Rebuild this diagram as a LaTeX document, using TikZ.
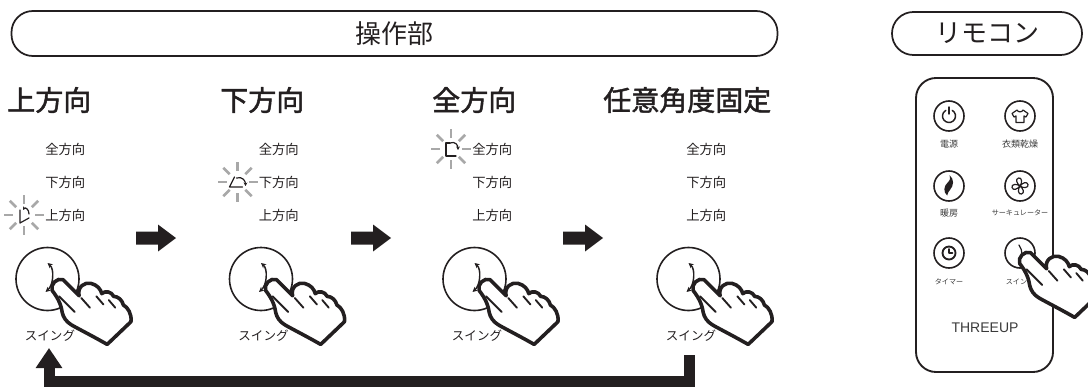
\documentclass[tikz,border=0pt]{standalone}
\usepackage{fontspec}
\setmainfont{Liberation Sans}
\newfontfamily\jp{Noto Sans CJK JP}
\newfontfamily\jpheavy[FakeBold=1.6]{Noto Sans CJK JP}
\usetikzlibrary{arrows.meta,calc}

\definecolor{ink}{HTML}{231F20}
\definecolor{raygray}{HTML}{A8A8A8}
\definecolor{labelgray}{HTML}{3A3A3A}

\tikzset{
  banner/.style={draw=ink, line width=1.3pt, rounded corners=16pt, inner sep=0pt,
    font=\jp\fontsize{19.5}{19.5}\selectfont, text=ink},
  title/.style={font=\jpheavy\fontsize{21}{21}\selectfont, text=ink, inner sep=0pt, anchor=west},
  lvl/.style={font=\jp\fontsize{10}{10}\selectfont, text=ink, inner sep=0pt, anchor=west},
  swbtn/.style={circle, draw=ink, line width=1.2pt, minimum size=47.25pt, inner sep=0pt},
  swlabel/.style={font=\jp\fontsize{9.4}{9.4}\selectfont, text=ink, inner sep=0pt},
  rbody/.style={draw=ink, line width=1.4pt, rounded corners=15pt, inner sep=0pt},
  rbtn/.style={circle, draw=ink, line width=1.2pt, minimum size=22.5pt, inner sep=0pt},
  rkanji/.style={font=\jp\fontsize{6.75}{6.75}\selectfont, text=labelgray, inner sep=0pt},
  rkana/.style={font=\jp\fontsize{5.3}{5.3}\selectfont, text=labelgray, inner sep=0pt},
  brand/.style={font=\fontsize{10.5}{10.5}\selectfont, text=labelgray, inner sep=0pt},
  glyphline/.style={draw=ink, line width=0.9pt, line cap=round, line join=round},
  tinytip/.style={-{Stealth[length=2.6pt,width=2.8pt]}},
  rayline/.style={draw=raygray, line width=2pt},
  handline/.style={draw=ink, fill=white, line width=2.7pt, line join=round, line cap=round},
  handcrease/.style={draw=ink, line width=1.4pt, line cap=round},
  returnline/.style={draw=ink, line width=8.25pt, -{Triangle[length=15pt,width=19pt]}},
  % pointing hand, fingertip at the origin
  pointhand/.pic={
    \begin{scope}[scale=1.08]
    \path[handline] (-5,5) .. controls (-7,-0.5) and (-0.5,-7) .. (5,-5)
      -- (20,10)
      .. controls (18,2) and (25,-3) .. (31,-1.5)
      .. controls (37,0) and (40,4) .. (41,8)
      .. controls (44,5) and (50,6) .. (52,10.5)
      .. controls (56,10.5) and (60,14) .. (61,18.5)
      .. controls (65,20.5) and (69,27) .. (68,34)
      -- (46,55)
      .. controls (32,47) and (20,41) .. (13,37)
      .. controls (8,34) and (5.5,30) .. (4.5,26)
      .. controls (3.5,20) and (2,14) .. cycle;
    \draw[handcrease] (1.5,10.5) -- (16,25);
    \draw[handcrease] (22,12) -- (30,21);
    \draw[handcrease] (36,10.5) -- (42.5,18);
    \draw[handcrease] (47.5,14) -- (53.5,21);
    \end{scope}
  },
  swingarc/.pic={
    \draw[glyphline, line width=1.1pt,
      {Stealth[length=3.8pt,width=3.8pt]}-{Stealth[length=3.8pt,width=3.8pt]}]
      (0,-16) .. controls (7,-10) and (6,6) .. (-2,13);
  },
  flowarrow/.pic={
    \fill[ink] (0,-6.5) -- (22,-6.5) -- (22,-13.5) -- (40,0) -- (22,13.5) -- (22,6.5) -- (0,6.5) -- cycle;
  },
  blinkrays/.pic={
    \foreach \a in {0,45,...,315} \draw[rayline] (\a:11) -- (\a:20);
  },
  upglyph/.pic={
    \draw[glyphline] (-4,-5) -- (-4,8) -- (5,3);
    \draw[glyphline,tinytip] (5,-1) .. controls (5,-6) and (1,-8) .. (-1,-5);
  },
  downglyph/.pic={
    \draw[glyphline] (-3,-5) -- (-8,5) -- (5,5);
    \draw[glyphline,tinytip] (-1,-4) .. controls (5,-6) and (8,-1) .. (8,4);
  },
  allglyph/.pic={
    \draw[glyphline] (-1,-6) -- (-5,-6) -- (-5,7) -- (5,7);
    \draw[glyphline,tinytip] (-1,-6) .. controls (4,-8) and (7,-4) .. (7,1);
  },
  powericon/.pic={
    \draw[glyphline, line width=1.1pt] (-60:6.5) arc[start angle=-60, end angle=240, radius=6.5];
    \draw[glyphline, line width=1.1pt] (0,-9) -- (0,-2);
  },
  shirticon/.pic={
    \draw[glyphline] (-3,-6) -- (-8,-2.5) -- (-6,1) -- (-4,0) -- (-4,6.5) -- (4,6.5)
      -- (4,0) -- (6,1) -- (8,-2.5) -- (3,-6) .. controls (2,-3.5) and (-2,-3.5) .. cycle;
  },
  flameicon/.pic={
    \begin{scope}[scale=1.2]
    \fill[ink] (-1.5,8) .. controls (-5,5) and (-4.5,0) .. (-1,-3)
      .. controls (1,-5) and (1.5,-7) .. (0.5,-9)
      .. controls (4.5,-5.5) and (4,-0.5) .. (1,3)
      .. controls (-0.5,4.5) and (-1,6) .. cycle;
    \end{scope}
  },
  fanicon/.pic={
    \foreach \a in {0,90,180,270}
      \draw[glyphline, rotate=\a] (0,0) .. controls (-3,-2) and (-5,-7) .. (-1.5,-8)
        .. controls (2,-9) and (2.5,-3) .. (0,0);
  },
  clockicon/.pic={
    \draw[glyphline, line width=1.4pt] (0,0) circle[radius=6.5];
    \draw[glyphline, line width=1.2pt] (0,-4) -- (0,0) -- (3.5,0);
  },
  swingicon/.pic={
    \draw[glyphline] (-1,-8) .. controls (1,-5) and (2,-2) .. (2,1);
  },
}

\begin{document}
\begin{tikzpicture}[x=0.75pt, y=-0.75pt]
\useasboundingbox (0,0) rectangle (1088,389);

% section banners
\node[banner, minimum width=574.5pt, minimum height=33.75pt] (opbar) at (394.5,33.5) {操作部};
\node[banner, minimum width=142.5pt, minimum height=32.25pt] (rcbar) at (987,33.5) {リモコン};

% column titles
\node[title] (title1) at (7,100) {上方向};
\node[title] (title2) at (220,100) {下方向};
\node[title] (title3) at (432,100) {全方向};
\node[title] (title4) at (603,100) {任意角度固定};

% four panel columns
\foreach \i/\L in {1/45,2/258.5,3/472,4/686}{
  \node[lvl] (all\i) at (\L,149) {全方向};
  \node[lvl] (down\i) at (\L,182) {下方向};
  \node[lvl] (up\i) at (\L,215) {上方向};
  \node[swbtn] (btn\i) at (\L+2.5,279) {};
  \pic at (btn\i.center) {swingarc};
  \node[swlabel] (swl\i) at (\L+5,336) {スイング};
  \pic at (\L+12.5,285) {pointhand};
}

% blinking louver indicators
\pic at ($(up1.west)+(-21,0)$) {blinkrays};
\pic at ($(up1.west)+(-21,0)$) {upglyph};
\pic at ($(down2.west)+(-21,0)$) {blinkrays};
\pic at ($(down2.west)+(-21,0)$) {downglyph};
\pic at ($(all3.west)+(-21,0)$) {blinkrays};
\pic at ($(all3.west)+(-21,0)$) {allglyph};

% step arrows
\pic at (136,238) {flowarrow};
\pic at (351,238) {flowarrow};
\pic at (563,238) {flowarrow};

% return arrow from the last panel back to the first
\coordinate (retstart) at ($(btn4.center)+(0.5,76)$);
\coordinate (retend) at ($(btn1.center)+(1.5,69)$);
\draw[returnline] (retstart) -- (retstart |- 0,381) -- (retend |- 0,381) -- (retend);

% remote control
\node[rbody, minimum width=102.75pt, minimum height=220.5pt] (remote) at (984.5,225) {};
\node[rbtn] (bpow) at (949,116) {};
\pic at (bpow.center) {powericon};
\node[rbtn] (bdry) at (1020,116) {};
\pic at (bdry.center) {shirticon};
\node[rbtn] (bheat) at (949,186) {};
\pic at (bheat.center) {flameicon};
\node[rbtn] (bfan) at (1020,186) {};
\pic at (bfan.center) {fanicon};
\node[rbtn] (btimer) at (949,253) {};
\pic at (btimer.center) {clockicon};
\node[rbtn] (bswing) at (1020,253) {};
\pic at (bswing.center) {swingicon};

\node[rkanji] (lpow) at (949,144) {電源};
\node[rkanji] (ldry) at (1020,144) {衣類乾燥};
\node[rkanji] (lheat) at (949,213) {暖房};
\node[rkana] (lfan) at (1020,213) {サーキュレーター};
\node[rkana] (ltimer) at (949,282) {タイマー};
\node[rkana] (lswing) at (1020,282) {スイング};
\node[brand] (brandname) at (985,328) {THREEUP};

\pic at ($(bswing.center)+(5,5)$) {pointhand};
\end{tikzpicture}
\end{document}
